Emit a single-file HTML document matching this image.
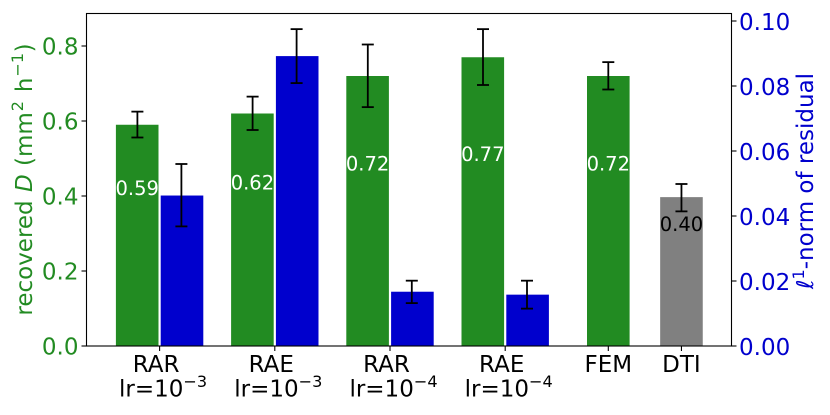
<!DOCTYPE html>
<html lang="en">
<head>
<meta charset="utf-8">
<title>Recovered D and residual norm</title>
<style>
html,body{margin:0;padding:0;background:#fff;}
svg{display:block;font-family:"DejaVu Sans","Liberation Sans",sans-serif;}
</style>
</head>
<body>
<svg id="chart" width="830" height="415" viewBox="0 0 830 415" xmlns="http://www.w3.org/2000/svg">
<rect x="0" y="0" width="830" height="415" fill="#ffffff"/>
<g id="bars"></g>
<g id="errs"></g>
<g id="vals"></g>
<g id="axes"></g>
<text transform="translate(32 179.5) rotate(-90)" text-anchor="middle" font-size="23" fill="#228B22">recovered <tspan font-style="italic" dx="1">D</tspan><tspan dx="1"> (mm</tspan><tspan font-size="16.1" dx="1" dy="-9">2</tspan><tspan dx="1.5" dy="9"> h</tspan><tspan font-size="16.1" dx="1" dy="-9">−1</tspan><tspan dx="0.5" dy="9">)</tspan></text>
<text transform="translate(813 181) rotate(-90)" text-anchor="middle" font-size="23" fill="#0000CD"><tspan font-style="italic">ℓ</tspan><tspan font-size="16.1" dy="-9">1</tspan><tspan dy="9">-norm of residual</tspan></text>
</svg>
<script>
const groupNames = ['RAR', 'RAE', 'RAR', 'RAE'];
const groupExponents = ['−3', '−3', '−4', '−4'];
const singleNames = ['FEM', 'DTI'];
const recoveredD = [0.59, 0.62, 0.72, 0.77];
const recoveredDLow = [0.556, 0.576, 0.637, 0.696];
const recoveredDHigh = [0.625, 0.665, 0.804, 0.845];
const residual = [0.0463, 0.0892, 0.0167, 0.0158];
const residualLow = [0.0368, 0.0809, 0.0132, 0.0115];
const residualHigh = [0.056, 0.0975, 0.0201, 0.0201];
const femD = [0.72, 0.684, 0.757];
const dtiD = [0.397, 0.359, 0.432];
const groupSlots = [0, 1, 2, 3];
const singleSlots = [3.895, 4.53];
const leftTicks = [0, 0.2, 0.4, 0.6, 0.8];
const rightTicks = [0, 0.02, 0.04, 0.06, 0.08, 0.1];

const NS = 'http://www.w3.org/2000/svg';
const GREEN = '#228B22', BLUE = '#0000CD', GREY = '#808080';
const plotL = 86.5, plotR = 731.5, plotT = 13, plotB = 346;
const barW = 42.6, barOffset = 22.4;
function xScale(v) { return 159.6 + v * 115.2; }
function yLeft(v) { return plotB - v * 375; }
function yRight(v) { return plotB - v * 3250; }

function make(parent, tag, attrs, text) {
  const el = document.createElementNS(NS, tag);
  for (const k in attrs) el.setAttribute(k, attrs[k]);
  if (text !== undefined) el.textContent = text;
  parent.appendChild(el);
  return el;
}
const barsG = document.getElementById('bars');
const errsG = document.getElementById('errs');
const valsG = document.getElementById('vals');
const axesG = document.getElementById('axes');

function drawBar(cx, value, scale, color, name) {
  const el = make(barsG, 'rect', { x: cx - barW / 2, y: scale(value), width: barW, height: plotB - scale(value), fill: color });
  
  
}
function drawErr(cx, low, high, scale, name) {
  const g = make(errsG, 'g', { stroke: '#000', 'stroke-width': 1.8, fill: 'none' });
  
  
  make(g, 'line', { x1: cx, x2: cx, y1: scale(low), y2: scale(high) });
  make(g, 'line', { x1: cx - 6, x2: cx + 6, y1: scale(low), y2: scale(low) });
  make(g, 'line', { x1: cx - 6, x2: cx + 6, y1: scale(high), y2: scale(high) });
}
function drawVal(cx, value, color, name) {
  const el = make(valsG, 'text', { x: cx, y: yLeft(value / 2 + 0.1) - 3, 'text-anchor': 'middle', 'font-size': 19.5, fill: color }, value.toFixed(2));
  
  
}

groupSlots.forEach(function (slot, i) {
  const c = xScale(slot);
  drawBar(c - barOffset, recoveredD[i], yLeft, GREEN, 'recovered-d-bar-' + (i + 1));
  drawBar(c + barOffset, residual[i], yRight, BLUE, 'residual-bar-' + (i + 1));
  drawErr(c - barOffset + 0.2, recoveredDLow[i], recoveredDHigh[i], yLeft, 'recovered-d-error-' + (i + 1));
  drawErr(c + barOffset - 0.6, residualLow[i], residualHigh[i], yRight, 'residual-error-' + (i + 1));
  drawVal(c - barOffset, recoveredD[i], '#ffffff', 'recovered-d-value-' + (i + 1));
});
const femX = xScale(singleSlots[0]), dtiX = xScale(singleSlots[1]);
drawBar(femX, femD[0], yLeft, GREEN, 'fem-bar');
drawBar(dtiX, dtiD[0], yLeft, GREY, 'dti-bar');
drawErr(femX, femD[1], femD[2], yLeft, 'fem-error');
drawErr(dtiX, dtiD[1], dtiD[2], yLeft, 'dti-error');
drawVal(femX, femD[0], '#ffffff', 'fem-value');
drawVal(dtiX, dtiD[0], '#000000', 'dti-value');

const frame = make(axesG, 'rect', { x: plotL, y: plotT + 0.5, width: plotR - plotL, height: plotB - plotT - 0.5, fill: 'none', stroke: '#000', 'stroke-width': 1.1 });



leftTicks.forEach(function (t) {
  const y = yLeft(t);
  const tick = make(axesG, 'line', { x1: plotL - 5, x2: plotL, y1: y, y2: y, stroke: '#000', 'stroke-width': 1.1 });
  
  
  const label = make(axesG, 'text', { x: 78.5, y: y + 8.4, 'text-anchor': 'end', 'font-size': 23, fill: GREEN }, t.toFixed(1));
  
  
});
rightTicks.forEach(function (t) {
  const y = yRight(t);
  const tick = make(axesG, 'line', { x1: plotR, x2: plotR + 5, y1: y, y2: y, stroke: '#000', 'stroke-width': 1.1 });
  
  
  const label = make(axesG, 'text', { x: 739, y: y + 9, 'text-anchor': 'start', 'font-size': 23, fill: BLUE }, t.toFixed(2));
  
  
});

function xTick(x) {
  const tick = make(axesG, 'line', { x1: x, x2: x, y1: plotB, y2: plotB + 5, stroke: '#000', 'stroke-width': 1.1 });
  
  
}
groupSlots.forEach(function (slot, i) {
  const x = xScale(slot);
  xTick(x);
  const a = make(axesG, 'text', { x: x - 3.5, y: 372, 'text-anchor': 'middle', 'font-size': 23, fill: '#000' }, groupNames[i]);
  
  
  const b = make(axesG, 'text', { x: x + 3.5, y: 396.5, 'text-anchor': 'middle', 'font-size': 23, fill: '#000' }, 'lr=10');
  
  
  make(b, 'tspan', { 'font-size': 16.1, dy: -9.5 }, groupExponents[i]);
});
singleSlots.forEach(function (slot, i) {
  const x = xScale(slot);
  xTick(x);
  const a = make(axesG, 'text', { x: x, y: 372, 'text-anchor': 'middle', 'font-size': 23, fill: '#000' }, singleNames[i]);
  
  
});
</script>
</body>
</html>
